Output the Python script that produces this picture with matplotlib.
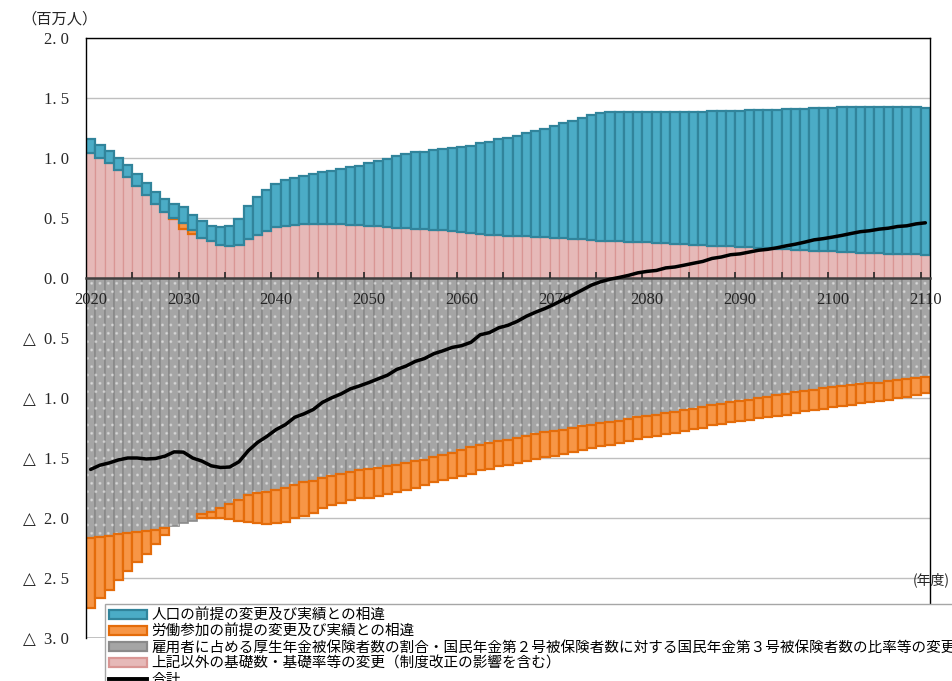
import numpy as np
import matplotlib.pyplot as plt
from matplotlib.patches import Patch
from matplotlib.lines import Line2D

# fiscal years on the category axis
years = list(range(2020, 2111))

# 上記以外の基礎数・基礎率等の変更
pink = [1.038, 1.004, 0.959, 0.904, 0.842, 0.770, 0.689, 0.613, 0.549, 0.488,
        0.410, 0.368, 0.335, 0.312, 0.276, 0.264, 0.276, 0.325, 0.355, 0.390,
        0.423, 0.435, 0.440, 0.446, 0.452, 0.452, 0.452, 0.450, 0.443, 0.438,
        0.432, 0.430, 0.423, 0.418, 0.416, 0.410, 0.407, 0.400, 0.396, 0.390,
        0.380, 0.372, 0.370, 0.362, 0.360, 0.354, 0.350, 0.347, 0.342, 0.340,
        0.335, 0.333, 0.326, 0.322, 0.318, 0.312, 0.308, 0.306, 0.304, 0.300,
        0.296, 0.292, 0.288, 0.284, 0.280, 0.277, 0.274, 0.270, 0.266, 0.263,
        0.260, 0.255, 0.251, 0.248, 0.244, 0.240, 0.237, 0.233, 0.228, 0.224,
        0.221, 0.216, 0.213, 0.210, 0.208, 0.205, 0.203, 0.201, 0.199, 0.196,
        0.193]

# 人口の前提の変更及び実績との相違
teal = [0.117, 0.103, 0.100, 0.100, 0.098, 0.100, 0.103, 0.103, 0.106, 0.120,
        0.139, 0.127, 0.139, 0.121, 0.148, 0.169, 0.218, 0.273, 0.320, 0.343,
        0.359, 0.379, 0.397, 0.402, 0.412, 0.432, 0.440, 0.462, 0.483, 0.499,
        0.527, 0.543, 0.567, 0.600, 0.616, 0.641, 0.646, 0.665, 0.680, 0.695,
        0.708, 0.727, 0.757, 0.773, 0.795, 0.809, 0.832, 0.858, 0.880, 0.901,
        0.934, 0.956, 0.985, 1.009, 1.040, 1.060, 1.072, 1.075, 1.078, 1.082,
        1.087, 1.091, 1.096, 1.100, 1.105, 1.108, 1.112, 1.118, 1.126, 1.131,
        1.135, 1.141, 1.146, 1.151, 1.160, 1.166, 1.170, 1.176, 1.186, 1.192,
        1.197, 1.208, 1.213, 1.217, 1.219, 1.223, 1.225, 1.227, 1.229, 1.232,
        1.224]

# 労働参加の前提の変更及び実績との相違
orange = [-0.585, -0.510, -0.450, -0.383, -0.312, -0.250, -0.190, -0.120, -0.060, 0.008,
          0.045, 0.030, -0.030, -0.051, -0.090, -0.122, -0.175, -0.227, -0.251, -0.273,
          -0.280, -0.290, -0.274, -0.280, -0.270, -0.252, -0.244, -0.243, -0.232, -0.232,
          -0.240, -0.233, -0.230, -0.223, -0.223, -0.217, -0.209, -0.201, -0.209, -0.204,
          -0.217, -0.225, -0.210, -0.214, -0.210, -0.210, -0.209, -0.203, -0.206, -0.211,
          -0.215, -0.204, -0.201, -0.195, -0.195, -0.195, -0.190, -0.188, -0.188, -0.179,
          -0.176, -0.182, -0.175, -0.176, -0.178, -0.174, -0.173, -0.165, -0.168, -0.167,
          -0.173, -0.167, -0.167, -0.172, -0.175, -0.172, -0.171, -0.167, -0.164, -0.168,
          -0.167, -0.168, -0.162, -0.154, -0.154, -0.147, -0.153, -0.148, -0.148, -0.145,
          -0.131]

# 雇用者に占める厚生年金被保険者数の割合・…の比率等の変更
gray = [-2.165, -2.157, -2.150, -2.137, -2.128, -2.120, -2.110, -2.100, -2.080, -2.065,
        -2.045, -2.025, -1.970, -1.947, -1.913, -1.886, -1.850, -1.810, -1.794, -1.780,
        -1.765, -1.746, -1.724, -1.700, -1.690, -1.668, -1.646, -1.635, -1.618, -1.604,
        -1.590, -1.580, -1.570, -1.557, -1.543, -1.529, -1.515, -1.495, -1.473, -1.459,
        -1.435, -1.410, -1.390, -1.376, -1.360, -1.347, -1.334, -1.320, -1.300, -1.284,
        -1.272, -1.264, -1.250, -1.236, -1.222, -1.208, -1.200, -1.188, -1.172, -1.160,
        -1.152, -1.138, -1.125, -1.116, -1.100, -1.088, -1.075, -1.060, -1.049, -1.033,
        -1.021, -1.013, -0.999, -0.988, -0.977, -0.966, -0.954, -0.943, -0.932, -0.920,
        -0.910, -0.901, -0.893, -0.887, -0.879, -0.874, -0.860, -0.851, -0.845, -0.832,
        -0.826]

labels = ["人口の前提の変更及び実績との相違",
          "労働参加の前提の変更及び実績との相違",
          "雇用者に占める厚生年金被保険者数の割合・国民年金第２号被保険者数に対する国民年金第３号被保険者数の比率等の変更",
          "上記以外の基礎数・基礎率等の変更（制度改正の影響を含む）",
          "合計"]

y_ticks = [2.0, 1.5, 1.0, 0.5, 0.0, -0.5, -1.0, -1.5, -2.0, -2.5, -3.0]
y_tick_labels = ["2. 0", "1. 5", "1. 0", "0. 5", "0. 0",
                 "△  0. 5", "△  1. 0", "△  1. 5", "△  2. 0", "△  2. 5", "△  3. 0"]
x_label_years = [2020, 2030, 2040, 2050, 2060, 2070, 2080, 2090, 2100, 2110]

# colours (excel-ish)
c_teal, e_teal = "#4BACC6", "#31849B"
c_orange, e_orange = "#F79646", "#E46C0A"
c_gray, e_gray = "#A5A5A5", "#8A8A8A"
c_pink, e_pink = "#E6B9B8", "#D99694"

x = np.array(years)
pink_a = np.array(pink)
teal_a = np.array(teal)
orange_a = np.array(orange)
gray_a = np.array(gray)
total = pink_a + teal_a + orange_a + gray_a

o_pos = np.clip(orange_a, 0, None)
o_neg = np.clip(orange_a, None, 0)
mp = o_pos > 0
mn = o_neg < 0

serif = ["Liberation Serif", "DejaVu Sans"]
jp = ["Noto Sans CJK JP", "DejaVu Sans"]

fig = plt.figure(figsize=(9.52, 6.81), dpi=100)
ax = fig.add_axes([86 / 952, 1 - 638 / 681, 844 / 952, 600 / 681])

# gridlines under the bars (axis itself stays on top for the year labels)
for v in y_ticks:
    if v != 0:
        ax.axhline(v, color="#BFBFBF", linewidth=1.0, zorder=0.5)

# negative side
ax.bar(x, gray_a, width=1.0, color=c_gray, edgecolor=e_gray, linewidth=1.2, zorder=1)
ax.bar(x, gray_a, width=1.0, facecolor="none", edgecolor=(1, 1, 1, 0.35),
       hatch="..", linewidth=0, zorder=1.1)
ax.bar(x[mn], o_neg[mn], bottom=gray_a[mn], width=1.0, color=c_orange,
       edgecolor=e_orange, linewidth=1.6, zorder=1.2)

# positive side
ax.bar(x, pink_a, width=1.0, color=c_pink, edgecolor=e_pink, linewidth=0.9, zorder=1)
ax.bar(x[mp], o_pos[mp], bottom=pink_a[mp], width=1.0, color=c_orange,
       edgecolor=e_orange, linewidth=1.6, zorder=1.2)
ax.bar(x, teal_a, bottom=pink_a + o_pos, width=1.0, color=c_teal,
       edgecolor=e_teal, linewidth=1.6, zorder=1.3)

ax.plot(x, total, color="black", linewidth=2.5, zorder=4, solid_capstyle="round")

ax.set_xlim(2019.5, 2110.5)
ax.set_ylim(-3.0, 2.0)

ax.set_yticks(y_ticks)
ax.set_yticklabels(y_tick_labels, fontfamily=serif, fontsize=12, color="#262626")
ax.tick_params(axis="y", length=0, pad=12)

# zero axis with category ticks
ax.spines["bottom"].set_position(("data", 0))
ax.spines["bottom"].set_color("#404040")
ax.spines["bottom"].set_linewidth(1.8)
ax.spines["bottom"].set_zorder(3)
ax.set_xticks(x_label_years)
ax.set_xticklabels([str(y) for y in x_label_years], fontfamily=serif,
                   fontsize=12, color="#262626")
ax.set_xticks(np.arange(2024.5, 2110, 5), minor=True)
ax.tick_params(axis="x", which="major", length=0, pad=10)
ax.tick_params(axis="x", which="minor", direction="in", length=4,
               width=1.2, color="#262626")
ax.xaxis.set_zorder(3)

for s in ["left", "right", "top"]:
    ax.spines[s].set_color("black")
    ax.spines[s].set_linewidth(1.0)
ax.axhline(-3.0, color="black", linewidth=1.0, zorder=3)

fig.text(59 / 952, 1 - 19 / 681, "（百万人）", fontfamily=jp, fontsize=11,
         ha="center", va="center", color="#262626")
fig.text(950 / 952, 1 - 580 / 681, "(年度)", fontfamily=jp, fontsize=10,
         ha="right", va="center", color="#262626")

handles = [Patch(facecolor=c_teal, edgecolor=e_teal, linewidth=1.6),
           Patch(facecolor=c_orange, edgecolor=e_orange, linewidth=1.6),
           Patch(facecolor=c_gray, edgecolor=e_gray, linewidth=1.6),
           Patch(facecolor=c_pink, edgecolor=e_pink, linewidth=1.6),
           Line2D([], [], color="black", linewidth=2.8)]
leg = ax.legend(handles, labels, loc="upper left",
                bbox_to_anchor=(105 / 952, 1 - 604 / 681),
                bbox_transform=fig.transFigure, borderaxespad=0,
                fancybox=False, edgecolor="#A6A6A6", framealpha=1,
                prop={"family": jp, "size": 10.5},
                handlelength=2.6, handleheight=0.6, handletextpad=0.3,
                labelspacing=0.14, borderpad=0.3)
leg.set_zorder(10)
leg.get_frame().set_linewidth(1.0)

fig.savefig("out.png", dpi=100)
